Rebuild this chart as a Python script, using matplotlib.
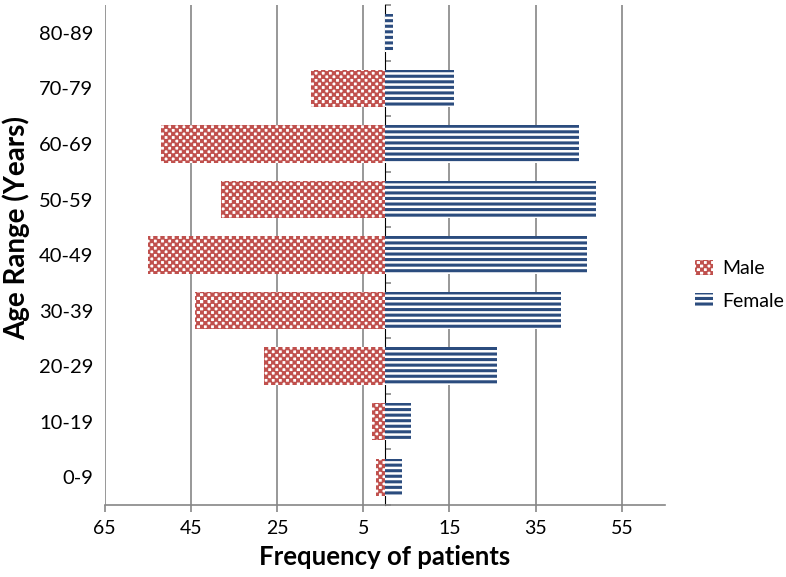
import warnings
import numpy as np
import matplotlib
matplotlib.use("Agg")
import matplotlib.pyplot as plt
import matplotlib.hatch as mhatch
from matplotlib.path import Path

warnings.filterwarnings("ignore")

# data
age_groups = ["0-9", "10-19", "20-29", "30-39", "40-49", "50-59", "60-69", "70-79", "80-89"]
male = [2, 3, 28, 44, 55, 38, 52, 17, 0]
female = [4, 6, 26, 41, 47, 49, 45, 16, 2]
tick_vals = [-65, -45, -25, -5, 15, 35, 55]
tick_labels = ["65", "45", "25", "5", "15", "35", "55"]


# checkerboard fill pattern ('c') and filled stripes ('s') for the bars
class CheckerHatch(mhatch.HatchPatternBase):
    def __init__(self, hatch, density):
        self.cells = hatch.count('c') * 7
        self.num_vertices = (self.cells * self.cells // 2) * 5

    def set_vertices_and_codes(self, vertices, codes):
        step = 1.0 / self.cells
        d = step * 0.1  # squares a touch larger so the red reads stronger
        k = 0
        for i in range(self.cells):
            for j in range(self.cells):
                if (i + j) % 2:
                    continue
                x0, y0 = i * step - d, j * step - d
                x1, y1 = (i + 1) * step + d, (j + 1) * step + d
                vertices[k:k + 5] = [[x0, y0], [x1, y0], [x1, y1], [x0, y1], [x0, y0]]
                codes[k:k + 5] = [Path.MOVETO, Path.LINETO, Path.LINETO,
                                  Path.LINETO, Path.CLOSEPOLY]
                k += 5


class StripeHatch(mhatch.HatchPatternBase):
    def __init__(self, hatch, density):
        self.n = hatch.count('s') * density
        self.num_vertices = self.n * 5

    def set_vertices_and_codes(self, vertices, codes):
        step = 1.0 / self.n
        h = step * 0.55
        for i in range(self.n):
            y0 = i * step
            vertices[i * 5:i * 5 + 5] = [[-0.1, y0], [1.1, y0], [1.1, y0 + h],
                                         [-0.1, y0 + h], [-0.1, y0]]
            codes[i * 5:i * 5 + 5] = [Path.MOVETO, Path.LINETO, Path.LINETO,
                                      Path.LINETO, Path.CLOSEPOLY]


mhatch._hatch_types.append(CheckerHatch)
mhatch._hatch_types.append(StripeHatch)

plt.rcParams['font.family'] = ['Lato', 'DejaVu Sans']
plt.rcParams['hatch.linewidth'] = 0.01

red = '#C0504D'
blue = '#2B4C7E'
grid_c = '#868686'

fig = plt.figure(figsize=(7.86, 5.77), dpi=100)
ax = fig.add_axes([0.133, 0.125, 0.713, 0.866])

y = np.arange(len(age_groups))
ax.barh(y, -np.array(male), height=0.67, color='white', edgecolor=red,
        linewidth=0, hatch='cccc', label='Male', zorder=3)
ax.barh(y, female, height=0.67, color='white', edgecolor=blue,
        linewidth=0, hatch='sss', label='Female', zorder=3)

ax.set_xlim(-65, 65)
ax.set_ylim(-0.5, len(age_groups) - 0.5)
ax.set_xticks(tick_vals)
ax.set_xticklabels(tick_labels, fontsize=14)
ax.set_yticks(y)
ax.set_yticklabels(age_groups, fontsize=14.5)
ax.tick_params(axis='y', length=0, pad=8)
ax.tick_params(axis='x', length=5, color=grid_c, width=1.2, pad=6)

ax.grid(axis='x', color=grid_c, linewidth=1.2, zorder=0)
ax.set_axisbelow(True)
for s in ['top', 'right', 'left']:
    ax.spines[s].set_visible(False)
ax.spines['bottom'].set_color(grid_c)
ax.spines['bottom'].set_linewidth(1.2)

# centre axis with category boundary ticks
sec = ax.secondary_yaxis(0.5)
sec.set_yticks(np.arange(-0.5, len(age_groups), 1.0))
sec.set_yticklabels([])
sec.tick_params(length=4, color=grid_c, width=1.2)
sec.spines['left'].set_color(grid_c)
sec.spines['left'].set_linewidth(1.2)

ax.set_xlabel('Frequency of patients', fontsize=18.5, fontweight='bold', labelpad=6)
ax.set_ylabel('Age Range (Years)', fontsize=20, fontweight='bold', va='center')
ax.yaxis.set_label_coords(-0.158, 0.554)

fig.legend(loc='center left', bbox_to_anchor=(0.862, 0.506), frameon=False,
           fontsize=14, handlelength=0.93, handleheight=0.82, labelspacing=0.8,
           handletextpad=0.45)

fig.savefig('out.png', dpi=100)
